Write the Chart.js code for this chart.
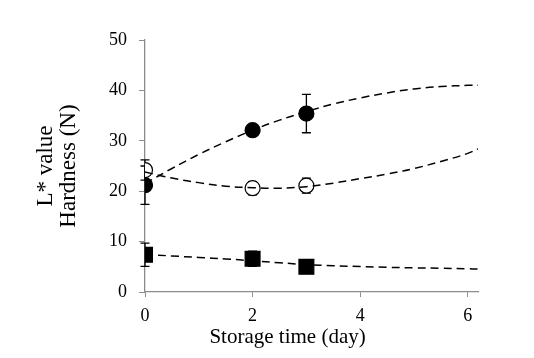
<!DOCTYPE html>
<html><head><meta charset="utf-8">
<script src="https://cdn.jsdelivr.net/npm/chart.js@4"></script>
<style>html,body{margin:0;padding:0;background:#fff}#wrap{width:534px;height:358px}</style>
</head><body><div id="wrap"><canvas id="c" width="534" height="358"></canvas></div>
<script>
const days = [0, 2, 3];
const filledCircle = [21.2, 32.1, 35.4];
const filledCircleErr = [3.8, 1.0, 3.8];
const openCircle = [24.2, 20.6, 21.1];
const openCircleErr = [2.0, 1.3, 1.5];
const filledSquare = [7.4, 6.6, 5.0];
const filledSquareErr = [2.3, 1.5, 0.4];

const trendX = [0, 0.5, 1, 1.5, 2, 2.5, 3, 3.5, 4, 4.5, 5, 5.5, 6, 6.19];
const trendFilledCircle = [21.5, 24.5, 27.3, 29.8, 32.1, 34.1, 35.8, 37.3, 38.5, 39.5, 40.3, 40.75, 41.0, 41.0];
const trendOpenCircle = [23.8, 22.6, 21.7, 21.0, 20.7, 20.6, 20.9, 21.6, 22.5, 23.4, 24.5, 25.9, 27.5, 28.4];
const trendSquare = [7.45, 7.15, 6.85, 6.55, 6.2, 5.8, 5.45, 5.2, 5.05, 4.9, 4.8, 4.7, 4.6, 4.55];

const xTicks = [0, 2, 4, 6];
const yTicks = [0, 10, 20, 30, 40, 50];
const xTitle = 'Storage time (day)';
const yTitle = ['L* value', 'Hardness (N)'];

const pts = (xs, ys) => xs.map((x, i) => ({x: x, y: ys[i]}));

const trendDs = (ys) => ({
  type: 'line', data: pts(trendX, ys), borderColor: '#000', borderWidth: 1.5,
  borderDash: [8, 5], pointRadius: 0, fill: false, tension: 0.4, order: 0
});
const markerDs = (ys, errs, style, bg, r) => ({
  type: 'scatter', data: pts(days, ys), errors: errs, pointStyle: style,
  backgroundColor: bg, borderColor: '#000', borderWidth: 1.2, pointRadius: r, showLine: false, order: 1
});

const errorBars = {
  id: 'errorBars',
  beforeDatasetsDraw(chart) {
    const ctx = chart.ctx, xs = chart.scales.x, ys = chart.scales.y;
    ctx.save();
    ctx.strokeStyle = '#000'; ctx.lineWidth = 1.3;
    chart.data.datasets.forEach(ds => {
      if (!ds.errors) return;
      ds.data.forEach((p, i) => {
        const e = ds.errors[i];
        const px = xs.getPixelForValue(p.x);
        const top = ys.getPixelForValue(p.y + e), bot = ys.getPixelForValue(p.y - e);
        ctx.beginPath();
        ctx.moveTo(px, top); ctx.lineTo(px, bot);
        ctx.moveTo(px - 4.5, top); ctx.lineTo(px + 4.5, top);
        ctx.moveTo(px - 4.5, bot); ctx.lineTo(px + 4.5, bot);
        ctx.stroke();
      });
    });
    ctx.restore();
  }
};

const xTitlePlugin = {
  id: 'xTitlePlugin',
  afterDraw(chart) {
    const ctx = chart.ctx, xs = chart.scales.x;
    ctx.save();
    ctx.fillStyle = '#000';
    ctx.font = '21px "Liberation Serif"';
    ctx.textAlign = 'center';
    ctx.textBaseline = 'alphabetic';
    ctx.fillText(xTitle, xs.getPixelForValue(2.65), xs.bottom - 15);
    ctx.restore();
  }
};

new Chart(document.getElementById('c'), {
  data: {
    datasets: [
      trendDs(trendFilledCircle), trendDs(trendOpenCircle), trendDs(trendSquare),
      markerDs(filledCircle, filledCircleErr, 'circle', '#000', 7.5),
      markerDs(openCircle, openCircleErr, 'circle', '#fff', 7.5),
      markerDs(filledSquare, filledSquareErr, 'rect', '#000', 10.5)
    ]
  },
  options: {
    responsive: false, animation: false, devicePixelRatio: 1,
    layout: { padding: { top: 40, right: 56, left: 34, bottom: 0 } },
    plugins: { legend: { display: false }, tooltip: { enabled: false } },
    scales: {
      x: {
        type: 'linear', min: 0, max: 6.19,
        afterBuildTicks: s => { s.ticks = xTicks.map(v => ({value: v})); },
        afterFit: s => { s.height = 66; },
        grid: { drawOnChartArea: false, drawTicks: true, tickLength: 5, color: '#8c8c8c' },
        border: { color: '#8c8c8c', width: 1.3 },
        ticks: { color: '#000', padding: 8, font: { family: 'Liberation Serif', size: 18 } },
        title: { display: false }
      },
      y: {
        type: 'linear', min: 0, max: 50,
        afterBuildTicks: s => { s.ticks = yTicks.map(v => ({value: v})); },
        afterFit: s => { s.width = 111; },
        grid: { drawOnChartArea: false, drawTicks: true, tickLength: 6, color: '#8c8c8c' },
        border: { color: '#8c8c8c', width: 1.3 },
        ticks: { color: '#000', padding: 12, font: { family: 'Liberation Serif', size: 18 } },
        title: { display: true, text: yTitle, color: '#000',
                 padding: { top: 0, bottom: 0 }, font: { family: 'Liberation Serif', size: 23, lineHeight: 1.0 } }
      }
    }
  },
  plugins: [errorBars, xTitlePlugin]
});
</script></body></html>
